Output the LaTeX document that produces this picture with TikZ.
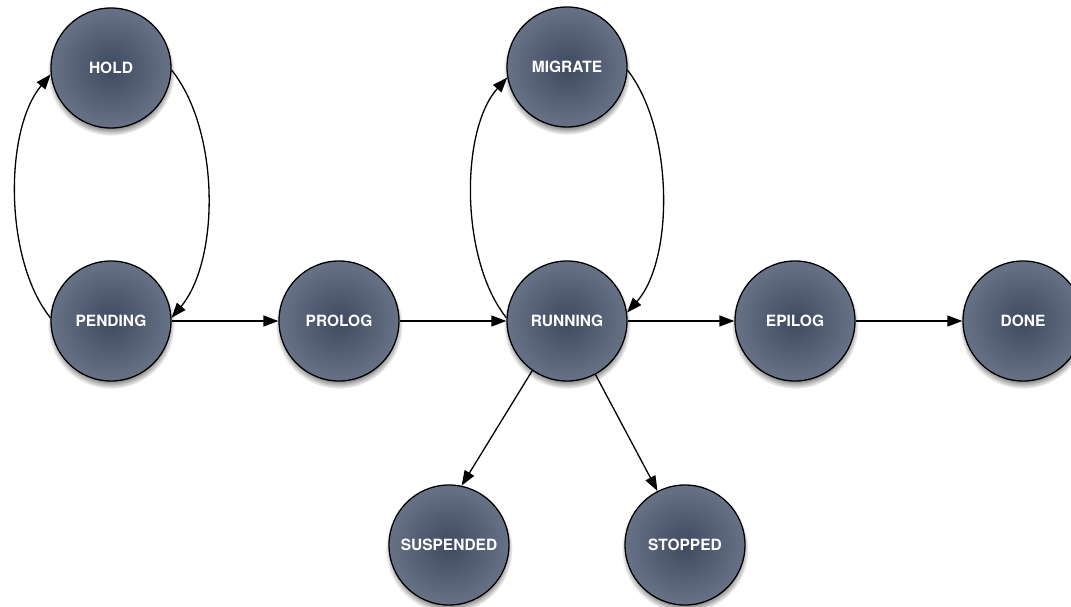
\documentclass[tikz,border=0pt]{standalone}
\usepackage{fontspec}
\setsansfont{TeX Gyre Heros}
\usetikzlibrary{arrows.meta,fadings,shadows}
\definecolor{stin}{RGB}{62,74,96}
\definecolor{stout}{RGB}{104,114,134}
\tikzset{
  state/.style={circle, minimum size=120pt, inner sep=0pt, draw=black,
    line width=1.3pt, inner color=stin, outer color=stout, text=white,
    font=\sffamily\bfseries\fontsize{15.5}{15.5}\selectfont,
    drop shadow={shadow xshift=0pt, shadow yshift=-4pt, shadow scale=1.06,
      opacity=0.55, fill=black, path fading=circle with fuzzy edge 15 percent}},
  flow/.style={line width=1.3pt, -{Triangle[length=15pt,width=11pt]}},
}
\begin{document}
\begin{tikzpicture}[x=1pt,y=-1pt]
\useasboundingbox (0,0) rectangle (1071,607);
% job states
\node[state] (hold)      at (111,68)  {HOLD};
\node[state] (pending)   at (111,321) {PENDING};
\node[state] (prolog)    at (339,321) {PROLOG};
\node[state] (running)   at (567,321) {RUNNING};
\node[state] (migrate)   at (567,67)  {MIGRATE};
\node[state] (epilog)    at (795,321) {EPILOG};
\node[state] (done)      at (1023,321) {DONE};
\node[state] (suspended) at (449,545) {SUSPENDED};
\node[state] (stopped)   at (685,545) {STOPPED};
% transitions
\draw[flow] (pending.177) .. controls (4,260) and (4,130) .. (hold.186);
\draw[flow] (hold.358) .. controls (220,130) and (220,260) .. (pending.3);
\draw[flow] (pending.east) -- (prolog.west);
\draw[flow] (prolog.east) -- (running.west);
\draw[flow] (running.east) -- (epilog.west);
\draw[flow] (epilog.east) -- (done.west);
\draw[flow] (running.177) .. controls (460,260) and (460,130) .. (migrate.190);
\draw[flow] (migrate.357) .. controls (674,130) and (674,260) .. (running.8);
\draw[flow] (running.235) -- (suspended.78);
\draw[flow] (running.298) -- (stopped.117);
\end{tikzpicture}
\end{document}
